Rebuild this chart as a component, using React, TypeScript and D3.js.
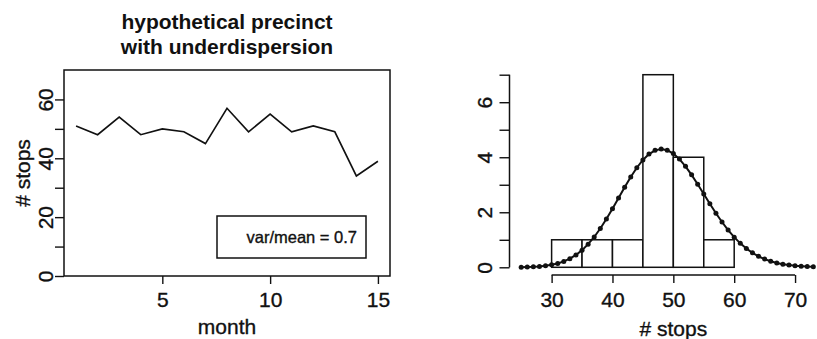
import { useEffect, useRef } from 'react';
import * as d3 from 'd3';

// ---- data ----
const titleLines = ['hypothetical precinct', 'with underdispersion'];
const months = [1, 2, 3, 4, 5, 6, 7, 8, 9, 10, 11, 12, 13, 14, 15];
const stops = [51, 48, 54, 48, 50, 49, 45, 57, 49, 55, 49, 51, 49, 34, 39];
const leftYTicks = [0, 10, 20, 30, 40, 50, 60];
const leftYLabels = [0, 20, 40, 60];
const leftXTicks = [5, 10, 15];
const legendText = 'var/mean = 0.7';

const binStarts = [30, 35, 40, 45, 50, 55];
const binWidth = 5;
const binCounts = [1, 1, 1, 7, 4, 1];
const rightYTicks = [0, 1, 2, 3, 4, 5, 6, 7];
const rightYLabels = [0, 2, 4, 6];
const rightXTicks = [30, 40, 50, 60, 70];

const curveX = [
  25, 26, 27, 28, 29, 30, 31, 32, 33, 34, 35, 36, 37, 38, 39, 40, 41, 42, 43,
  44, 45, 46, 47, 48, 49, 50, 51, 52, 53, 54, 55, 56, 57, 58, 59, 60, 61, 62,
  63, 64, 65, 66, 67, 68, 69, 70, 71, 72, 73,
];
const curveY = [
  0.006, 0.011, 0.019, 0.033, 0.056, 0.09, 0.141, 0.214, 0.315, 0.45, 0.623,
  0.84, 1.102, 1.408, 1.752, 2.125, 2.516, 2.907, 3.281, 3.619, 3.903, 4.117,
  4.251, 4.298, 4.257, 4.132, 3.932, 3.669, 3.36, 3.019, 2.664, 2.309, 1.966,
  1.645, 1.353, 1.094, 0.871, 0.681, 0.525, 0.398, 0.297, 0.219, 0.158, 0.113,
  0.08, 0.055, 0.038, 0.025, 0.017,
];

const FONT = '"Liberation Sans", Arial, Helvetica, sans-serif';
const INK = '#111';
const W = 817;
const H = 339;

const App = () => {
  const svgRef = useRef<SVGSVGElement | null>(null);

  useEffect(() => {
    const svg = d3.select(svgRef.current);
    svg.selectAll('*').remove();
    svg.style('font-family', FONT);

    // scanned look: text slightly heavier
    const ink = (sel: any, size: string) =>
      sel
        .attr('fill', INK)
        .attr('stroke', INK)
        .attr('stroke-width', 0.35)
        .style('font-size', size)
        .style('font-family', FONT);

    // ==========================================
    // LEFT PANEL: time series
    // ==========================================
    const xL = d3.scaleLinear().domain([0.44, 15.56]).range([64, 390]);
    const yL = d3.scaleLinear().domain([0, 70]).range([276, 70]);

    const left = svg.append('g');

    titleLines.forEach((t, i) => {
      left
        .append('text')
        .attr('x', (xL.range()[0] + xL.range()[1]) / 2)
        .attr('y', 29 + i * 25)
        .attr('text-anchor', 'middle')
        .attr('fill', INK)
        .style('font-size', '21px')
        .style('font-weight', 'bold')
        .text(t);
    });

    // box
    left
      .append('rect')
      .attr('x', xL.range()[0])
      .attr('y', yL.range()[1])
      .attr('width', xL.range()[1] - xL.range()[0])
      .attr('height', yL.range()[0] - yL.range()[1])
      .attr('fill', 'none')
      .attr('stroke', INK)
      .attr('stroke-width', 1.5);

    // y axis
    const yAxisL = left
      .append('g')
      .attr('transform', `translate(${xL.range()[0]},0)`)
      .call(d3.axisLeft(yL).tickValues(leftYTicks).tickSize(9).tickSizeOuter(0));
    yAxisL.select('.domain').remove();
    yAxisL.selectAll('line').attr('stroke', INK).attr('stroke-width', 1.4);
    ink(
      yAxisL
        .selectAll<SVGTextElement, number>('text')
        .text((d) => (leftYLabels.includes(d) ? String(d) : ''))
        .attr('transform', 'rotate(-90)')
        .attr('x', 0)
        .attr('y', -11)
        .attr('dy', 0)
        .attr('text-anchor', 'middle'),
      '21px'
    );

    // x axis
    const xAxisL = left
      .append('g')
      .attr('transform', `translate(0,${yL.range()[0]})`)
      .call(d3.axisBottom(xL).tickValues(leftXTicks).tickSize(8).tickSizeOuter(0));
    xAxisL.select('.domain').remove();
    xAxisL.selectAll('line').attr('stroke', INK).attr('stroke-width', 1.4);
    ink(xAxisL.selectAll('text').attr('y', 31).attr('dy', 0), '21px');

    ink(
      left
        .append('text')
        .attr('x', (xL.range()[0] + xL.range()[1]) / 2)
        .attr('y', 334)
        .attr('text-anchor', 'middle')
        .text('month'),
      '21px'
    );

    ink(
      left
        .append('text')
        .attr(
          'transform',
          `translate(30,${(yL.range()[0] + yL.range()[1]) / 2}) rotate(-90)`
        )
        .attr('text-anchor', 'middle')
        .text('# stops'),
      '21px'
    );

    // series line
    const lineL = d3
      .line<number>()
      .x((_, i) => xL(months[i]))
      .y((d) => yL(d));
    left
      .append('path')
      .datum(stops)
      .attr('d', lineL)
      .attr('fill', 'none')
      .attr('stroke', INK)
      .attr('stroke-width', 1.6);

    // legend
    const lgRight = xL.range()[1] - 24;
    const lgBottom = yL(0) - 18;
    const lgW = 149;
    const lgH = 42;
    left
      .append('rect')
      .attr('x', lgRight - lgW)
      .attr('y', lgBottom - lgH)
      .attr('width', lgW)
      .attr('height', lgH)
      .attr('fill', 'white')
      .attr('stroke', INK)
      .attr('stroke-width', 1.5);
    ink(
      left
        .append('text')
        .attr('x', lgRight - 9)
        .attr('y', lgBottom - 15)
        .attr('text-anchor', 'end')
        .text(legendText),
      '16.5px'
    );

    // ==========================================
    // RIGHT PANEL: histogram + curve
    // ==========================================
    const xPad = (d3.max(curveX)! - d3.min(curveX)!) * 0.04;
    const xR = d3
      .scaleLinear()
      .domain([d3.min(curveX)! - xPad, d3.max(curveX)! + xPad])
      .range([509.5, 825]);
    const yR = d3.scaleLinear().domain([-0.28, 7.28]).range([275, 67]);

    const right = svg.append('g');

    // bars
    right
      .selectAll('.bar')
      .data(binCounts)
      .enter()
      .append('rect')
      .attr('x', (_, i) => xR(binStarts[i]))
      .attr('y', (d) => yR(d))
      .attr('width', (_, i) => xR(binStarts[i] + binWidth) - xR(binStarts[i]))
      .attr('height', (d) => yR(0) - yR(d))
      .attr('fill', 'white')
      .attr('stroke', INK)
      .attr('stroke-width', 1.5);

    // curve
    const lineR = d3
      .line<number>()
      .x((_, i) => xR(curveX[i]))
      .y((d) => yR(d));
    right
      .append('path')
      .datum(curveY)
      .attr('d', lineR)
      .attr('fill', 'none')
      .attr('stroke', INK)
      .attr('stroke-width', 2);
    right
      .selectAll('.dot')
      .data(curveY)
      .enter()
      .append('circle')
      .attr('cx', (_, i) => xR(curveX[i]))
      .attr('cy', (d) => yR(d))
      .attr('r', 2.5)
      .attr('fill', INK);

    // y axis
    const axX = xR.range()[0];
    const yAxisR = right
      .append('g')
      .attr('transform', `translate(${axX},0)`)
      .call(d3.axisLeft(yR).tickValues(rightYTicks).tickSize(10).tickSizeOuter(0));
    yAxisR.select('.domain').remove();
    yAxisR.selectAll('line').attr('stroke', INK).attr('stroke-width', 1.4);
    ink(
      yAxisR
        .selectAll<SVGTextElement, number>('text')
        .text((d) => (rightYLabels.includes(d) ? String(d) : ''))
        .attr('transform', 'rotate(-90)')
        .attr('x', 0)
        .attr('y', -18)
        .attr('dy', 0)
        .attr('text-anchor', 'middle'),
      '21px'
    );
    right
      .append('line')
      .attr('x1', axX)
      .attr('x2', axX)
      .attr('y1', yR(d3.min(rightYTicks)!))
      .attr('y2', yR(d3.max(rightYTicks)!))
      .attr('stroke', INK)
      .attr('stroke-width', 1.5);

    // x axis
    const axY = yR.range()[0];
    const xAxisR = right
      .append('g')
      .attr('transform', `translate(0,${axY})`)
      .call(d3.axisBottom(xR).tickValues(rightXTicks).tickSize(8).tickSizeOuter(0));
    xAxisR.select('.domain').remove();
    xAxisR.selectAll('line').attr('stroke', INK).attr('stroke-width', 1.4);
    ink(xAxisR.selectAll('text').attr('y', 32).attr('dy', 0), '21px');
    right
      .append('line')
      .attr('x1', xR(d3.min(rightXTicks)!))
      .attr('x2', xR(d3.max(rightXTicks)!))
      .attr('y1', axY)
      .attr('y2', axY)
      .attr('stroke', INK)
      .attr('stroke-width', 1.5);

    ink(
      right
        .append('text')
        .attr('x', (xR(d3.min(rightXTicks)!) + xR(d3.max(rightXTicks)!)) / 2)
        .attr('y', 336)
        .attr('text-anchor', 'middle')
        .text('# stops'),
      '21px'
    );
  }, []);

  return (
    <svg
      ref={svgRef}
      width={W}
      height={H}
      style={{ position: 'absolute', left: 0, top: 0, background: 'white' }}
    />
  );
};

export default App;
